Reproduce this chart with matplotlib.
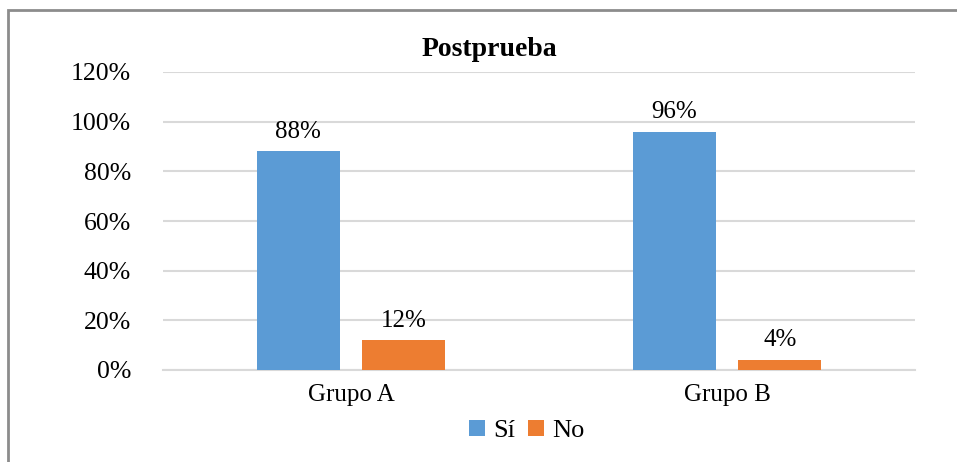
import matplotlib.pyplot as plt
import numpy as np
from matplotlib.patches import Rectangle

groups = ["Grupo A", "Grupo B"]
si_values = [88, 96]
no_values = [12, 4]
series_names = ["Sí", "No"]
y_ticks = [0, 20, 40, 60, 80, 100, 120]

plt.rcParams['font.family'] = ['Liberation Serif', 'DejaVu Serif']

fig = plt.figure(figsize=(9.57, 4.62), dpi=100)
ax = fig.add_axes([163 / 957, 1 - 370 / 462, 752 / 957, 298 / 462])

# outer chart frame (cropped at right/bottom like the source)
fig.patches.append(Rectangle((8 / 957, -0.1), 1.2, 1 - 10 / 462 + 0.1,
                             transform=fig.transFigure, fill=False,
                             edgecolor="#8c8c8c", linewidth=2))

x = np.arange(len(groups))
width = 0.221
offset = 0.1405
b1 = ax.bar(x - offset, si_values, width, color="#5b9bd5", label=series_names[0], zorder=3)
b2 = ax.bar(x + offset, no_values, width, color="#ed7d31", label=series_names[1], zorder=3)

for bars, vals in ((b1, si_values), (b2, no_values)):
    for rect, v in zip(bars, vals):
        ax.text(rect.get_x() + rect.get_width() / 2, v + 3.5, f"{v}%",
                ha="center", va="bottom", fontsize=18)

ax.set_xlim(-0.5, 1.5)
ax.set_ylim(0, 120)
ax.set_yticks(y_ticks)
ax.set_yticklabels([f"{t}%" for t in y_ticks], fontsize=18.5)
ax.set_xticks(x)
ax.set_xticklabels(groups, fontsize=18)
ax.tick_params(axis="both", length=0)
ax.tick_params(axis="y", pad=23)
ax.tick_params(axis="x", pad=10)
ax.grid(axis="y", color="#d9d9d9", linewidth=1.5, zorder=0)
for s in ["top", "right", "left"]:
    ax.spines[s].set_visible(False)
ax.spines["bottom"].set_color("#d9d9d9")
ax.spines["bottom"].set_linewidth(1.5)

fig.text(489 / 957, 1 - 50 / 462, "Postprueba", ha="center", va="center",
         fontsize=20, fontweight="bold")

fig.legend(handles=[b1, b2], loc="center", bbox_to_anchor=(527 / 957, 1 - 431 / 462),
           ncol=2, frameon=False, fontsize=19, handlelength=0.6, handleheight=0.6,
           handletextpad=0.3, columnspacing=0.5)

fig.savefig("out.png", dpi=100)
